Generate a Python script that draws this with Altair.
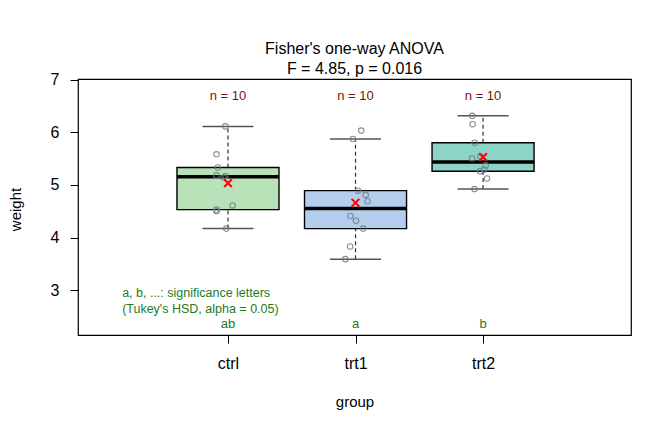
import altair as alt
import numpy as np
import pandas as pd

# PlantGrowth: dried plant weight by treatment group
groups = ["ctrl", "trt1", "trt2"]
ctrl_w = [4.17, 5.58, 5.18, 6.11, 4.50, 4.61, 5.17, 4.53, 5.33, 5.14]
trt1_w = [4.81, 4.17, 4.41, 3.59, 5.87, 3.83, 6.03, 4.89, 4.32, 4.69]
trt2_w = [6.31, 5.12, 5.54, 5.50, 5.37, 5.29, 4.92, 6.15, 5.80, 5.26]
# horizontal jitter of the raw points (in group units)
ctrl_jit = [-0.013, -0.09, -0.09, -0.02, -0.09, 0.036, -0.02, -0.09, -0.08, -0.035]
trt1_jit = [0.08, 0.06, -0.04, -0.08, -0.02, -0.042, 0.045, 0.019, 0.004, 0.094]
trt2_jit = [-0.085, 0.031, -0.02, -0.086, 0.02, 0.009, -0.067, -0.082, -0.067, -0.024]
box_fill = ["#B8E2B8", "#B3CEEC", "#8DD3C7"]
letters = ["ab", "a", "b"]
title_lines = ["Fisher's one-way ANOVA", "F = 4.85, p = 0.016"]
note_lines = ["a, b, ...: significance letters", "(Tukey's HSD, alpha = 0.05)"]

FONT = "Liberation Sans"
X_DOM = [-0.176, 4.16]
Y_DOM = [2.15, 7.01]

values = [ctrl_w, trt1_w, trt2_w]
jitters = [ctrl_jit, trt1_jit, trt2_jit]


def fivenum(v):
    s = np.sort(np.asarray(v, dtype=float))
    n = len(s)
    n4 = np.floor((n + 3) / 2) / 2
    d = np.array([1, n4, (n + 1) / 2, n + 1 - n4, n]) - 1
    return 0.5 * (s[np.floor(d).astype(int)] + s[np.ceil(d).astype(int)])


box_rows, pt_rows = [], []
for i, (g, v, j) in enumerate(zip(groups, values, jitters)):
    pos = i + 1
    mn, lo, med, hi, mx = fivenum(v)
    iqr = hi - lo
    arr = np.asarray(v)
    wlo = arr[arr >= lo - 1.5 * iqr].min()
    whi = arr[arr <= hi + 1.5 * iqr].max()
    box_rows.append(dict(group=g, pos=pos, left=pos - 0.4, right=pos + 0.4,
                         cl=pos - 0.2, cr=pos + 0.2, lo=lo, med=med, hi=hi,
                         wlo=wlo, whi=whi, mean=float(np.mean(v)),
                         n=f"n = {len(v)}", letter=letters[i]))
    for w, dx in zip(v, j):
        pt_rows.append(dict(group=g, x=pos + dx, weight=w))

boxes = pd.DataFrame(box_rows)
points = pd.DataFrame(pt_rows)
notes = pd.DataFrame({"x": [0.17, 0.17], "y": [2.94, 2.65], "t": note_lines})

xs = alt.Scale(domain=X_DOM, nice=False, zero=False)
ys = alt.Scale(domain=Y_DOM, nice=False, zero=False)
label_expr = "datum.value == 1 ? 'ctrl' : datum.value == 2 ? 'trt1' : 'trt2'"
x_axis = alt.Axis(values=[1, 2, 3], labelExpr=label_expr, title="group",
                  grid=False, domain=False, tickSize=8, tickColor="black",
                  labelFont=FONT, labelFontSize=16, labelColor="black",
                  labelPadding=12, titleFont=FONT, titleFontSize=15,
                  titleFontWeight="normal", titleColor="black", titleY=66,
                  titleBaseline="middle")
y_axis = alt.Axis(values=[3, 4, 5, 6, 7], format="d", title="weight", grid=False,
                  domain=False, tickSize=8, tickColor="black",
                  labelFont=FONT, labelFontSize=16, labelColor="black",
                  labelPadding=11, titleFont=FONT, titleFontSize=15,
                  titleFontWeight="normal", titleColor="black",
                  titleX=-63, titleY=130, titleAngle=-90,
                  titleBaseline="middle", titleAlign="center")

base = alt.Chart(boxes)

whisk_lo = base.mark_rule(color="#333333", strokeDash=[4, 3], strokeWidth=1.2).encode(
    x=alt.X("pos:Q", scale=xs, axis=x_axis), y=alt.Y("wlo:Q", scale=ys, axis=y_axis),
    y2="lo:Q")
whisk_hi = base.mark_rule(color="#333333", strokeDash=[4, 3], strokeWidth=1.2).encode(
    x=alt.X("pos:Q", scale=xs), y=alt.Y("hi:Q", scale=ys), y2="whi:Q")
cap_lo = base.mark_rule(color="#555555", strokeWidth=1.5).encode(
    x=alt.X("cl:Q", scale=xs), x2="cr:Q", y=alt.Y("wlo:Q", scale=ys))
cap_hi = base.mark_rule(color="#555555", strokeWidth=1.5).encode(
    x=alt.X("cl:Q", scale=xs), x2="cr:Q", y=alt.Y("whi:Q", scale=ys))
box = base.mark_rect(stroke="black", strokeWidth=1.4).encode(
    x=alt.X("left:Q", scale=xs), x2="right:Q",
    y=alt.Y("lo:Q", scale=ys), y2="hi:Q",
    fill=alt.Fill("group:N", scale=alt.Scale(domain=groups, range=box_fill), legend=None))
median = base.mark_rule(color="black", strokeWidth=3.5).encode(
    x=alt.X("left:Q", scale=xs), x2="right:Q", y=alt.Y("med:Q", scale=ys))
pts = alt.Chart(points).mark_point(shape="circle", filled=False, size=30,
                                   stroke="#6E7E86", strokeWidth=1.1, opacity=0.85).encode(
    x=alt.X("x:Q", scale=xs), y=alt.Y("weight:Q", scale=ys))
means = base.mark_point(shape="M-1,-1L1,1M-1,1L1,-1", filled=False, size=60,
                        stroke="#FF0000", strokeWidth=2, opacity=1).encode(
    x=alt.X("pos:Q", scale=xs), y=alt.Y("mean:Q", scale=ys))
ntext = base.mark_text(font=FONT, fontSize=13, color="#7A1010", baseline="middle").encode(
    x=alt.X("pos:Q", scale=xs), y=alt.Y("ny:Q", scale=ys), text="n:N"
).transform_calculate(ny="6.68")
lettext = base.mark_text(font=FONT, fontSize=13, color="#1E7B1E", baseline="middle").encode(
    x=alt.X("pos:Q", scale=xs), y=alt.Y("ly:Q", scale=ys), text="letter:N"
).transform_calculate(ly="2.36")
notetext = alt.Chart(notes).mark_text(font=FONT, fontSize=12.5, color="#1E7B1E",
                                      align="left", baseline="middle").encode(
    x=alt.X("x:Q", scale=xs), y=alt.Y("y:Q", scale=ys), text="t:N")

chart = alt.layer(whisk_lo, whisk_hi, cap_lo, cap_hi, box, median, pts, means,
                  ntext, lettext, notetext).properties(
    width=553, height=256,
    title=alt.TitleParams(text=title_lines, font=FONT, fontSize=16,
                          fontWeight="normal", color="black", anchor="middle",
                          offset=-5, lineHeight=20),
    autosize=alt.AutoSizeParams(type="none"),
    padding={"left": 78, "top": 79, "right": 41, "bottom": 97},
    background="white",
).configure_view(stroke="black", strokeWidth=1.2)

chart.save("out.html", embed_options={"renderer": "svg", "actions": False})
